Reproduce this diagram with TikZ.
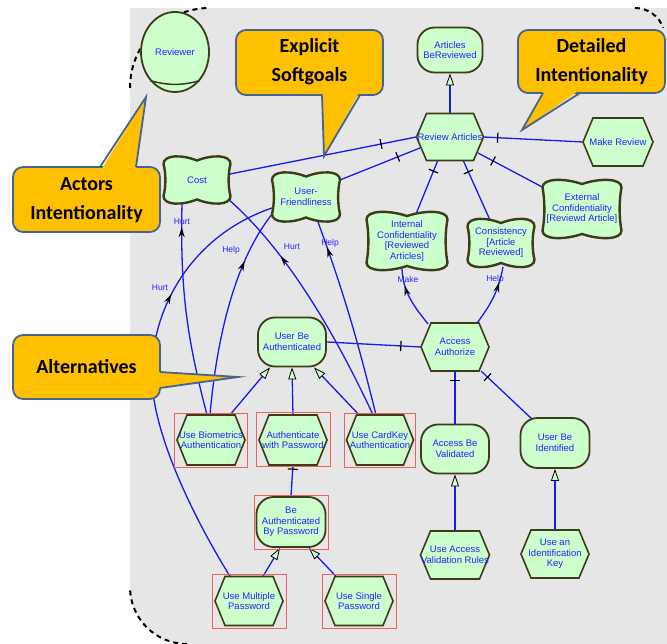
\documentclass[tikz,border=0pt]{standalone}
\usepackage{fontspec}
\setmainfont{Liberation Sans}
\newfontfamily\calloutfont{Carlito}
\usetikzlibrary{arrows.meta,shapes.geometric,decorations.markings,calc}
\pgfdeclarelayer{bg}
\pgfdeclarelayer{links}
\pgfdeclarelayer{top}
\pgfsetlayers{bg,links,main,top}

\definecolor{bggray}{RGB}{230,230,230}
\definecolor{nodegreen}{RGB}{204,255,204}
\definecolor{nodeborder}{RGB}{60,60,25}
\definecolor{linkblue}{RGB}{25,25,240}
\definecolor{textblue}{RGB}{35,35,255}
\definecolor{calloutfill}{RGB}{255,192,0}
\definecolor{calloutedge}{RGB}{70,100,145}
\definecolor{boxred}{RGB}{240,95,95}

% softgoal: name, x, y, width, height, text
\newcommand\softgoal[6]{%
  \pgfmathsetmacro\sgA{#4/2}%
  \pgfmathsetmacro\sgB{#5/2}%
  \filldraw[sgshape, shift={(#2,#3)}] (-\sgA,-\sgB+7)
    .. controls (-\sgA,-\sgB-2.5) and (-0.45*\sgA,-\sgB-2.5) .. (0,-\sgB+3.5)
    .. controls (0.45*\sgA,-\sgB-2.5) and (\sgA,-\sgB-2.5) .. (\sgA,-\sgB+7)
    .. controls (\sgA-2.5,-0.3*\sgB) and (\sgA-2.5,0.3*\sgB) .. (\sgA,\sgB-7)
    .. controls (\sgA,\sgB+2.5) and (0.45*\sgA,\sgB+2.5) .. (0,\sgB-3.5)
    .. controls (-0.45*\sgA,\sgB+2.5) and (-\sgA,\sgB+2.5) .. (-\sgA,\sgB-7)
    .. controls (-\sgA+2.5,0.3*\sgB) and (-\sgA+2.5,-0.3*\sgB) .. cycle;
  \node[txt, minimum width=#4pt, minimum height=#5pt] (#1) at (#2,#3) {#6};}

% task (hexagon): name, x, y, width, height, text
\newcommand\taskhex[6]{%
  \pgfmathsetmacro\tkA{#4/2}%
  \pgfmathsetmacro\tkB{#5/2}%
  \filldraw[tkshape, shift={(#2,#3)}] (-\tkA,0) -- (-\tkA+10,-\tkB) -- (\tkA-10,-\tkB)
    -- (\tkA,0) -- (\tkA-10,\tkB) -- (-\tkA+10,\tkB) -- cycle;
  \node[txt, minimum width=#4pt, minimum height=#5pt] (#1) at (#2,#3) {#6};}

\begin{document}
\begin{tikzpicture}[x=1pt,y=-1pt,
  txt/.style={font=\fontsize{9.5}{10.5}\selectfont, text=textblue, align=center, inner sep=1pt},
  goalnode/.style={txt, draw=nodeborder, fill=nodegreen, line width=1.8pt, rounded corners=17pt},
  tkshape/.style={draw=nodeborder, fill=nodegreen, line width=1.6pt, line join=miter},
  sgshape/.style={draw=nodeborder, fill=nodegreen, line width=2.4pt},
  actornode/.style={txt, draw=nodeborder, fill=nodegreen, line width=1.8pt, shape=ellipse, inner sep=0pt},
  redbox/.style={draw=boxred, line width=1pt},
  link/.style={draw=linkblue, line width=1.3pt},
  meansend/.style={link, -{Triangle[length=12pt,width=8pt,color=black,fill=nodegreen,line width=0.8pt]}},
  decomp/.style={link, postaction={decorate, decoration={markings,
      mark=at position #1 with {\draw[black,line width=1.2pt] (0pt,-5pt) -- (0pt,5pt);}}}},
  contrib/.style={link, postaction={decorate, decoration={markings,
      mark=at position #1 with {\arrow[black]{Stealth[open,length=10pt,width=6pt,line width=1pt]}}}}},
  lbl/.style={font=\fontsize{8.5}{9}\selectfont, text=textblue, inner sep=0pt},
  callout/.style={fill=calloutfill, draw=calloutedge, line width=1.8pt, rounded corners=10pt},
  calledge/.style={draw=calloutedge, line width=1.8pt, line join=miter},
  calltext/.style={font=\calloutfont\bfseries\fontsize{20}{29}\selectfont, align=center, text=black},
  bnd/.style={draw=black, line width=2pt, dash pattern=on 5pt off 4pt}
]
\useasboundingbox (0,0) rectangle (667,644);

\begin{pgfonlayer}{bg}
  \fill[bggray] (130,8) -- (667,8) -- (667,644) -- (187,644)
     arc[start angle=90, end angle=180, radius=57] -- cycle;
  \draw[bnd] (130,88) arc[start angle=180, end angle=270, radius=80];
  \draw[bnd] (635,8) arc[start angle=270, end angle=340, radius=30];
  \draw[bnd] (187,644) arc[start angle=90, end angle=180, radius=57];
\end{pgfonlayer}

% ---------- nodes ----------
\node[actornode, minimum width=68pt, minimum height=80pt] (rev) at (175,52) {Reviewer};
\draw[draw=nodeborder, line width=1.5pt] (rev.229) to[bend right=15] (rev.311);

\node[goalnode, minimum width=65pt, minimum height=45pt] (abr) at (450,50) {Articles\\BeReviewed};
\taskhex{ra}{450}{137}{67}{47}{Review Articles}
\taskhex{mr}{618}{142}{70}{48}{Make Review}

\softgoal{cost}{197}{180}{67}{46}{Cost}
\softgoal{uf}{306}{197}{68}{48}{User-\\Friendliness}
\softgoal{ic}{407}{241}{81}{57}{Internal\\Confidentiality\\{[}Reviewed\\Articles{]}}
\softgoal{cons}{501}{243}{67}{47}{Consistency\\{[}Article\\Reviewed{]}}
\softgoal{ec}{582}{209}{79}{57}{External\\Confidentiality\\{[}Reviewd Article{]}}

\taskhex{aa}{455}{347}{68}{48}{Access\\Authorize}
\node[goalnode, minimum width=68pt, minimum height=49pt] (uba) at (292,342) {User Be\\Authenticated};

\taskhex{ub}{211}{440}{68}{50}{Use Biometrics\\Authentication}
\taskhex{awp}{293}{440}{68}{50}{Authenticate\\with Password}
\taskhex{uck}{380}{440}{67}{50}{Use CardKey\\Authentication}

\node[goalnode, minimum width=68pt, minimum height=49pt] (abv) at (455,449) {Access Be\\Validated};
\node[goalnode, minimum width=69pt, minimum height=50pt] (ubi) at (555,443) {User Be\\Identified};
\node[goalnode, minimum width=69pt, minimum height=50pt] (bap) at (291,522) {Be\\Authenticated\\By Password};

\taskhex{ump}{249}{601}{68}{49}{Use Multiple\\Password}
\taskhex{usp}{359}{601}{68}{49}{Use Single\\Password}
\taskhex{uavr}{455}{555}{69}{48}{Use Access\\Validation Rules}
\taskhex{uik}{555}{554}{68}{48}{Use an\\Identification\\Key}

\coordinate (mpbend) at (152,372);

% ---------- links ----------
\begin{pgfonlayer}{links}
  % means-end
  \draw[meansend] (ra.north) -- (abr.south);
  \draw[meansend] (uavr.north) -- (abv.south);
  \draw[meansend] (uik.north) -- (ubi.south);
  \draw[meansend] ([xshift=19pt]ub.north) -- ([xshift=-22pt]uba.south);
  \draw[meansend] (awp.north) -- (uba.south);
  \draw[meansend] ([xshift=-21pt]uck.north) -- ([xshift=22pt]uba.south);
  \draw[meansend] ([xshift=14pt]ump.north) -- ([xshift=-11pt]bap.south);
  \draw[meansend] ([xshift=-23pt]usp.north) -- ([xshift=18pt]bap.south);
  % decompositions
  \draw[decomp=14pt] (ra.east) -- (mr.west);
  \draw[decomp=17pt] ($(ra.center)+(28,16)$) -- ($(ec.center)+(-36,-20)$);
  \draw[decomp=13pt] ($(ra.center)+(13,23)$) -- ($(cons.center)+(-11,-23)$);
  \draw[decomp=12pt] ($(ra.center)+(-12,23)$) -- ($(ic.center)+(9,-27)$);
  \draw[decomp=36pt] (ra.west) -- ($(cost.center)+(33,-6)$);
  \draw[decomp=24pt] ($(ra.center)+(-30,11)$) -- ($(uf.center)+(34,-17)$);
  \draw[decomp=20pt] (aa.west) -- (uba.east);
  \draw[decomp=9pt] (aa.south) -- (abv.north);
  \draw[decomp=9pt] ($(aa.center)+(26,24)$) -- ($(ubi.center)+(-22,-23)$);
  \draw[decomp=4pt] (awp.south) -- (bap.north);
  % contributions
  \draw[contrib=-24pt] ([xshift=-4pt]ub.north) to[bend left=8] ([xshift=-15pt]cost.south);
  \draw[contrib=-56pt] ([xshift=-1pt]ub.north) to[out=85,in=231,looseness=0.8] ($(uf.center)+(-33,16)$);
  \draw[contrib=-78pt] ([xshift=-7pt]uck.north) to[out=115,in=319,looseness=0.8] ($(cost.center)+(31,19)$);
  \draw[contrib=-27pt] ([xshift=-4pt]uck.north) to[out=104,in=290] ($(uf.center)+(12,25)$);
  \draw[contrib=-136pt] ([xshift=-19pt]ump.north) .. controls (195,520) and (150,430) .. (mpbend)
        .. controls (152,310) and (190,236) .. ($(uf.center)+(-34,11)$);
  \draw[contrib=-17pt] ($(aa.center)+(-27,-23)$) to[out=128,in=273] ($(ic.center)+(-5,28)$);
  \draw[contrib=-16pt] ($(aa.center)+(22,-24)$) to[out=53,in=259] ($(cons.center)+(2,24)$);
\end{pgfonlayer}

% contribution labels
\node[lbl] (l1) at (182,222) {Hurt};
\node[lbl] (l2) at (231,250) {Help};
\node[lbl] (l3) at (292,247) {Hurt};
\node[lbl] (l4) at (330,243) {Help};
\node[lbl] (l5) at (160,288) {Hurt};
\node[lbl] (l6) at (408,279) {Make};
\node[lbl] (l7) at (495,279) {Help};

% ---------- callouts and selection boxes ----------
\begin{pgfonlayer}{top}
  \draw[redbox] ($(ub.center)+(-36.5,-27)$) rectangle ($(ub.center)+(36.5,27)$);
  \draw[redbox] ($(awp.center)+(-36.5,-28)$) rectangle ($(awp.center)+(37.5,26)$);
  \draw[redbox] ($(uck.center)+(-35.5,-27)$) rectangle ($(uck.center)+(35.5,27)$);
  \draw[redbox] ($(bap.center)+(-36.5,-27)$) rectangle ($(bap.center)+(37.5,27)$);
  \draw[redbox] ($(ump.center)+(-37,-27)$) rectangle ($(ump.center)+(37,27)$);
  \draw[redbox] ($(usp.center)+(-36.5,-27)$) rectangle ($(usp.center)+(37.5,27)$);

  \filldraw[callout] (236,30) rectangle (383,95);
  \fill[calloutfill] (322.5,92) -- (324,156) -- (359.5,92) -- cycle;
  \draw[calledge] (322,95) -- (324,156) -- (360,95);
  \node[calltext] (cexp) at (309.5,62) {Explicit\\Softgoals};

  \filldraw[callout] (518,30) rectangle (665,93);
  \fill[calloutfill] (544,90) -- (522,130) -- (579.5,90) -- cycle;
  \draw[calledge] (543,93) -- (522,130) -- (580,93);
  \node[calltext] (cdet) at (591.5,62) {Detailed\\Intentionality};

  \filldraw[callout] (13,167) rectangle (160,232);
  \fill[calloutfill] (101,170) -- (146,97) -- (136,170) -- cycle;
  \draw[calledge] (100,167) -- (146,97) -- (136,167);
  \node[calltext] (cact) at (86.5,200) {Actors\\Intentionality};

  \filldraw[callout] (13,335) rectangle (160,399);
  \fill[calloutfill] (157,372) -- (238,377) -- (157,388) -- cycle;
  \draw[calledge] (160,372) -- (238,377) -- (160,388);
  \node[calltext] (calt) at (86.5,367) {Alternatives};
\end{pgfonlayer}
\end{tikzpicture}
\end{document}
